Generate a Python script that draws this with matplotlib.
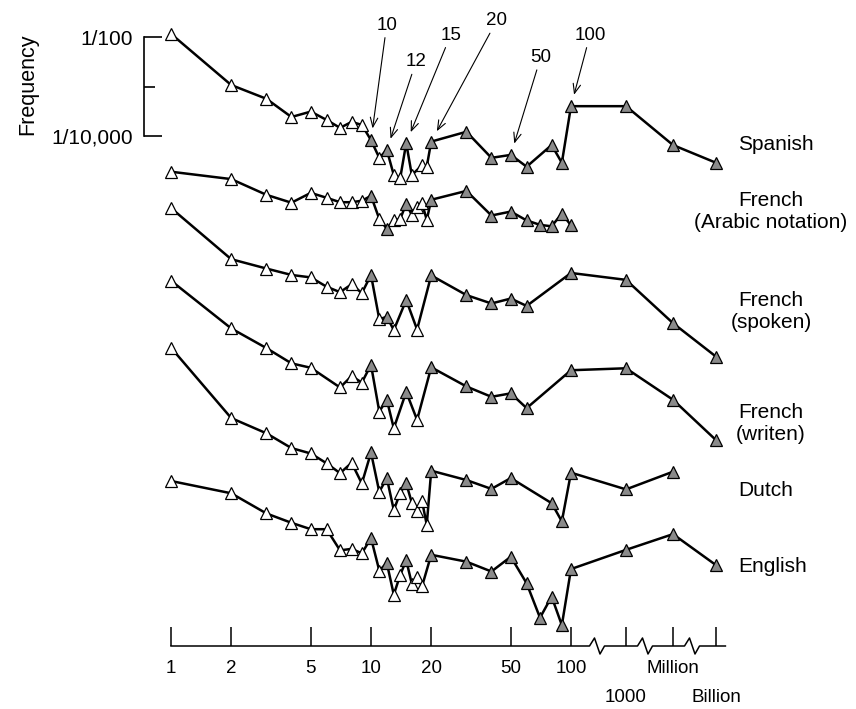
import numpy as np
import matplotlib.pyplot as plt

plt.rcParams['font.family'] = ['Liberation Sans', 'DejaVu Sans']

# number named (1e3 = thousand, 1e6 = million, 1e9 = billion) and log10 frequency
spanish_n = [1, 2, 3, 4, 5, 6, 7, 8, 9, 10, 11, 12, 13, 14, 15, 16, 18, 19, 20,
             30, 40, 50, 60, 80, 90, 100, 1e3, 1e6, 1e9]
spanish_f = [-1.93, -2.97, -3.25, -3.62, -3.51, -3.68, -3.84, -3.72, -3.78, -4.09,
             -4.45, -4.29, -4.80, -4.86, -4.15, -4.80, -4.60, -4.63, -4.12,
             -3.92, -4.45, -4.39, -4.63, -4.19, -4.55, -3.40, -3.40, -4.19, -4.55]

fr_arabic_n = [1, 2, 3, 4, 5, 6, 7, 8, 9, 10, 11, 12, 13, 14, 15, 16, 17, 18, 19, 20,
               30, 40, 50, 60, 70, 80, 90, 100]
fr_arabic_f = [-2.00, -2.15, -2.47, -2.63, -2.43, -2.53, -2.62, -2.62, -2.59, -2.49,
               -2.96, -3.16, -2.99, -2.96, -2.65, -2.88, -2.71, -2.64, -2.98, -2.57,
               -2.39, -2.89, -2.81, -2.99, -3.08, -3.11, -2.85, -3.09]

fr_spoken_n = [1, 2, 3, 4, 5, 6, 7, 8, 9, 10, 11, 12, 13, 15, 17, 20,
               30, 40, 50, 60, 100, 1e3, 1e6, 1e9]
fr_spoken_f = [-2.00, -3.04, -3.23, -3.36, -3.41, -3.60, -3.71, -3.55, -3.73, -3.36,
               -4.26, -4.21, -4.48, -3.87, -4.47, -3.37,
               -3.77, -3.94, -3.84, -3.99, -3.32, -3.46, -4.34, -5.02]

fr_written_n = [1, 2, 3, 4, 5, 7, 8, 9, 10, 11, 12, 13, 15, 17, 20,
                30, 40, 50, 60, 100, 1e3, 1e6, 1e9]
fr_written_f = [-2.00, -2.97, -3.37, -3.68, -3.77, -4.17, -3.94, -4.07, -3.71,
                -4.66, -4.42, -5.00, -4.26, -4.83, -3.76,
                -4.15, -4.36, -4.29, -4.59, -3.82, -3.78, -4.42, -5.24]

dutch_n = [1, 2, 3, 4, 5, 6, 7, 8, 9, 10, 11, 12, 13, 14, 15, 16, 17, 18, 19, 20,
           30, 40, 50, 80, 90, 100, 1e3, 1e6]
dutch_f = [-2.00, -3.43, -3.74, -4.04, -4.15, -4.35, -4.55, -4.34, -4.76, -4.13,
           -4.93, -4.65, -5.30, -4.95, -4.76, -5.15, -5.31, -5.12, -5.60, -4.50,
           -4.69, -4.87, -4.65, -5.16, -5.53, -4.54, -4.88, -4.52]

english_n = [1, 2, 3, 4, 5, 6, 7, 8, 9, 10, 11, 12, 13, 14, 15, 16, 17, 18, 20,
             30, 40, 50, 60, 70, 80, 90, 100, 1e3, 1e6, 1e9]
english_f = [-2.00, -2.25, -2.66, -2.85, -2.98, -2.98, -3.41, -3.38, -3.47, -3.16,
             -3.82, -3.67, -4.31, -3.91, -3.61, -4.09, -3.95, -4.14, -3.50,
             -3.64, -3.84, -3.54, -4.08, -4.78, -4.35, -4.93, -3.79, -3.40, -3.08, -3.71]

series = [
    (spanish_n, spanish_f),
    (fr_arabic_n, fr_arabic_f),
    (fr_spoken_n, fr_spoken_f),
    (fr_written_n, fr_written_f),
    (dutch_n, dutch_f),
    (english_n, english_f),
]
# vertical shift of each curve (in decades) so they stack
shifts = [0, 2.732, 3.470, 4.947, 6.309, 9.018]

axis_ticks = [1, 2, 5, 10, 20, 50, 100, 1e3, 1e6, 1e9]
axis_labels = ['1', '2', '5', '10', '20', '50', '100', '', 'Million', '']
axis_labels_low = {1e3: '1000', 1e9: 'Billion'}

arrow_numbers = [10, 12, 15, 20, 50, 100]

# broken x axis: log for 1..100, then squeezed steps to 1000, million, billion
LOGN = [-5, 0, 2, 3, 6, 9, 40]
POS = [-5, 0, 2, 2.275, 2.51, 2.725, 2.725 + 31 * 0.07]


def fwd(n):
    n = np.clip(np.asarray(n, dtype=float), 1e-5, 1e40)
    return np.interp(np.log10(n), LOGN, POS)


def inv(u):
    return 10 ** np.interp(np.asarray(u, dtype=float), POS, LOGN)


# pixel helpers for layout only
def xpx(px):
    return inv((px - 171) / 200)


def ypx(py):
    return -2 - (py - 37.3) / 49.2


W, H = 856, 709
fig = plt.figure(figsize=(W / 100, H / 100), dpi=100)
ax = fig.add_axes([0, 0, 1, 1])
ax.set_xscale('function', functions=(fwd, inv))
ax.set_xlim(xpx(0), xpx(W))
ax.set_ylim(ypx(H), ypx(0))
ax.axis('off')

for (n, f), sh in zip(series, shifts):
    n = np.array(n)
    y = np.array(f) - sh
    ax.plot(n, y, color='black', lw=1.8, zorder=2)
    filled = np.array([(v in (10, 12, 15)) or v >= 20 for v in n])
    ax.plot(n[~filled], y[~filled], ls='none', marker='^', ms=8.3,
            mfc='white', mec='black', mew=0.9, zorder=3)
    ax.plot(n[filled], y[filled], ls='none', marker='^', ms=8.3,
            mfc='#8a8a8a', mec='black', mew=0.9, zorder=3)

# arrows pointing at the Spanish curve
text_pos = {10: (386.7, 25), 12: (416, 61.7), 15: (450.7, 35),
            20: (496.7, 20.7), 50: (540.7, 57.3), 100: (590, 35)}
for num in arrow_numbers:
    i = spanish_n.index(num)
    tx, ty = text_pos[num]
    ax.annotate(str(num), xy=(spanish_n[i], spanish_f[i]),
                xytext=(xpx(tx), ypx(ty)), ha='center', va='center', fontsize=13.5,
                arrowprops=dict(arrowstyle='->, head_length=0.5, head_width=0.2',
                                lw=0.8, color='black', shrinkA=1, shrinkB=8.5))

# frequency scale
ax3 = fig.add_axes([144 / W, 1 - 135.7 / H, 30 / W, 98.4 / H])
ax3.set_ylim(-4, -2)
ax3.patch.set_visible(False)
for s in ['top', 'right', 'bottom']:
    ax3.spines[s].set_visible(False)
ax3.spines['left'].set_linewidth(1.2)
ax3.set_xticks([])
ax3.set_yticks([-4, -2], labels=['1/10,000', '1/100'])
ax3.set_yticks([-3], minor=True)
ax3.tick_params(axis='y', which='major', direction='in', length=13, width=1.2,
                pad=8, labelsize=15)
ax3.tick_params(axis='y', which='minor', direction='in', length=8, width=1.2)
fig.text(27.5 / W, 1 - 84.5 / H, 'Frequency', rotation=90, ha='center',
         va='center', fontsize=15.5)

# number line at the bottom
ax2 = fig.add_axes([0, (H - 646) / H, 1, 19 / H])
ax2.set_xscale('function', functions=(fwd, inv))
ax2.set_xlim(xpx(0), xpx(W))
ax2.set_ylim(0, 1)
ax2.patch.set_visible(False)
for s in ax2.spines.values():
    s.set_visible(False)
ax2.set_yticks([])
ax2.set_xticks(axis_ticks, labels=axis_labels)
ax2.tick_params(axis='x', direction='in', length=13.7, width=1.1, pad=10, labelsize=13.5)
for v, lab in axis_labels_low.items():
    ax2.text(v, -52 / 19, lab, transform=ax2.get_xaxis_transform(),
             ha='center', va='center', fontsize=13.5)

zig = [(-7.5, 0), (-2.5, 8), (3, -8), (7.5, 0)]
us, ys = [0], [0]
for c in [2.13, 2.37, 2.605]:
    for dx, dy in zig:
        us.append(c + dx / 200)
        ys.append(dy / 19)
us.append(2.772)
ys.append(0)
ax2.plot(inv(us), ys, color='black', lw=1.1, clip_on=False)

# language labels
fig.text(738 / W, 1 - 145 / H, 'Spanish', ha='left', va='center', fontsize=15)
fig.text(771 / W, 1 - 211.5 / H, 'French\n(Arabic notation)', ha='center',
         va='center', fontsize=15)
fig.text(771 / W, 1 - 311.7 / H, 'French\n(spoken)', ha='center', va='center', fontsize=15)
fig.text(771 / W, 1 - 423 / H, 'French\n(writen)', ha='center', va='center', fontsize=15)
fig.text(738 / W, 1 - 490 / H, 'Dutch', ha='left', va='center', fontsize=15)
fig.text(738 / W, 1 - 567 / H, 'English', ha='left', va='center', fontsize=15)

fig.savefig('out.png', dpi=100)
